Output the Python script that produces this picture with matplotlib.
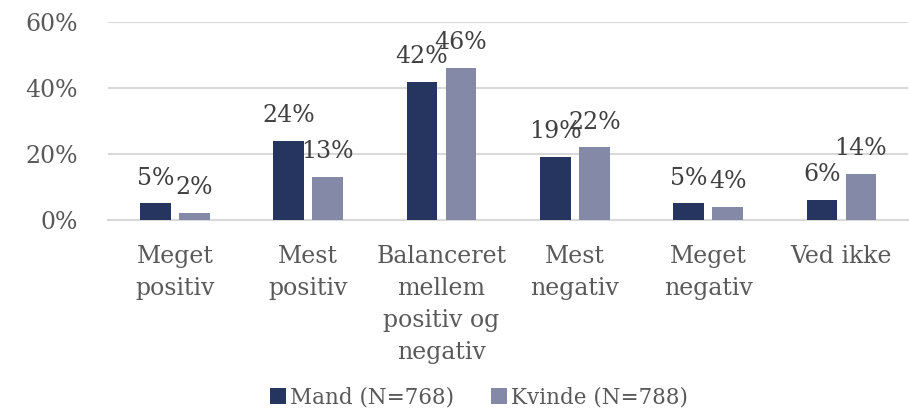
import matplotlib
matplotlib.use("Agg")
import matplotlib.pyplot as plt
import numpy as np

categories = ["Meget\npositiv", "Mest\npositiv", "Balanceret\nmellem\npositiv og\nnegativ",
              "Mest\nnegativ", "Meget\nnegativ", "Ved ikke"]
mand = [5, 24, 42, 19, 5, 6]
kvinde = [2, 13, 46, 22, 4, 14]
series_names = ["Mand (N=768)", "Kvinde (N=788)"]
yticks = [0, 20, 40, 60]

plt.rcParams['font.family'] = ['DejaVu Serif']

fig = plt.figure(figsize=(9.09, 4.11), dpi=100)
ax = fig.add_axes([0.119, 0.465, 0.88, 0.481])

x = np.arange(len(categories))
w = 0.23
off = 0.146
c1 = "#263560"
c2 = "#8589a8"
b1 = ax.bar(x - off, mand, w, color=c1, label=series_names[0], zorder=3)
b2 = ax.bar(x + off, kvinde, w, color=c2, label=series_names[1], zorder=3)

for bars, vals in ((b1, mand), (b2, kvinde)):
    for b, v in zip(bars, vals):
        ax.annotate(f"{v}%", (b.get_x() + b.get_width() / 2, v), xytext=(0, 10),
                    textcoords="offset points", ha="center", va="bottom",
                    fontsize=17, color="#404040")

ax.set_ylim(0, 60)
ax.set_xlim(-0.5, len(categories) - 0.5)
ax.set_yticks(yticks)
ax.set_yticklabels([f"{t}%" for t in yticks], fontsize=17, color="#595959")
ax.set_xticks(x)
ax.set_xticklabels(categories, fontsize=17, color="#595959", linespacing=1.5)
ax.tick_params(axis="both", length=0)
ax.tick_params(axis="x", pad=18)
ax.tick_params(axis="y", pad=22)
ax.grid(axis="y", color="#d9d9d9", linewidth=1.5, zorder=0)
for s in ["top", "right", "left"]:
    ax.spines[s].set_visible(False)
ax.spines["bottom"].set_color("#d9d9d9")
ax.spines["bottom"].set_linewidth(1.5)

fig.legend(handles=[b1, b2], loc="lower center", bbox_to_anchor=(0.527, -0.042), ncol=2,
           frameon=False, fontsize=15.5, handlelength=0.75, handleheight=0.75,
           handletextpad=0.2, columnspacing=1.7, labelcolor="#595959")

fig.savefig("out.png", dpi=100)
